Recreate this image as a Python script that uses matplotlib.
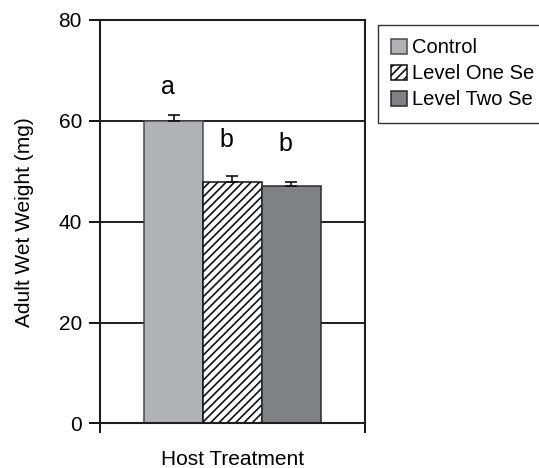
import matplotlib
matplotlib.use("Agg")
import matplotlib.pyplot as plt
from matplotlib.patches import Rectangle

plt.rcParams['font.family'] = ['Liberation Sans', 'DejaVu Sans']
plt.rcParams['hatch.linewidth'] = 1.2

# data
treatments = ["Control", "Level One Se", "Level Two Se"]
weights = [60.0, 47.8, 47.0]
errors = [1.2, 1.2, 0.9]
letters = ["a", "b", "b"]
letter_y = [66.7, 56.2, 55.4]

fills = ["#b1b2b6", "white", "#808185"]
edges = ["#4a4a4a", "#111111", "#2a2a2a"]
hatches = [None, "////", None]

W, H = 539, 468
fig = plt.figure(figsize=(W / 100, H / 100), dpi=100)
ax = fig.add_axes([0.1855, 0.0951, 0.4917, 0.8622])

x = list(range(len(treatments)))
for i in x:
    ax.bar(i, weights[i], width=1.0, color=fills[i], edgecolor=edges[i],
           linewidth=1.1, hatch=hatches[i], label=treatments[i], zorder=2)
ax.errorbar(x, weights, yerr=[[0] * len(errors), errors], fmt="none",
            ecolor="#111111", elinewidth=1.2, capsize=4, capthick=1.2, zorder=3)

for i in x:
    ax.text(i - 0.1, letter_y[i], letters[i], ha="center", va="center", fontsize=18)

ax.set_xlim(-1.25, 3.25)
ax.set_ylim(0, 80)
ax.set_yticks([0, 20, 40, 60, 80])
ax.set_xticks([-1.25, 3.25])
ax.set_xticklabels([])
ax.yaxis.grid(True, color="#1e1e1e", linewidth=1.4)
ax.set_axisbelow(True)
for s in ax.spines.values():
    s.set_linewidth(1.5)
    s.set_color("#1e1e1e")
ax.tick_params(axis="y", direction="out", length=8, width=1.3, labelsize=15, pad=5)
ax.tick_params(axis="x", direction="out", length=7, width=1.3)

ax.set_ylabel("Adult Wet Weight (mg)", fontsize=15)
ax.yaxis.set_label_coords(-0.25, 0.5)
ax.set_xlabel("Host Treatment", fontsize=15)
ax.xaxis.set_label_coords(0.5, -0.066)

# legend box runs off the right edge of the figure, as in the original
fig.patches.append(Rectangle((378 / W, 1 - 123 / H), 200 / W, 98 / H,
                             transform=fig.transFigure, facecolor="white",
                             edgecolor="#333333", linewidth=1.0, zorder=0))
leg = fig.legend(loc="upper left", bbox_to_anchor=(378 / W, 1 - 25 / H),
                 fontsize=14.5, handlelength=0.77, handleheight=0.77,
                 handletextpad=0.25, labelspacing=0.35, borderpad=0.65,
                 borderaxespad=0, frameon=False)

fig.savefig("out.png", dpi=100)
